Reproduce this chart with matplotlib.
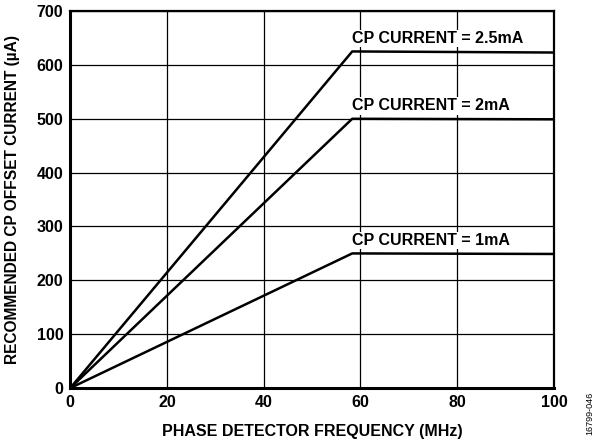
import numpy as np
from matplotlib import pyplot as plt

plt.rcParams['font.family'] = ['Liberation Sans', 'DejaVu Sans']

# donnees
freq = [0, 58.3, 100]
cp_25 = [0, 625, 623]
cp_2 = [0, 500, 499]
cp_1 = [0, 250, 249]
noms = ['CP CURRENT = 2.5mA', 'CP CURRENT = 2mA', 'CP CURRENT = 1mA']
xticks = [0, 20, 40, 60, 80, 100]
yticks = [0, 100, 200, 300, 400, 500, 600, 700]

fig = plt.figure(figsize=(5.95, 4.42), dpi=100)
ax = fig.add_axes([0.118, 0.122, 0.813, 0.853])

for serie, nom in zip([cp_25, cp_2, cp_1], noms):
    ax.plot(freq, serie, color='black', linewidth=1.8, solid_capstyle='butt', zorder=3)
    ax.text(freq[1], serie[1] + 10, nom, fontsize=11.5, fontweight='bold',
            ha='left', va='bottom', zorder=4,
            bbox=dict(facecolor='white', edgecolor='none', pad=1))

ax.set_xlim(0, 100)
ax.set_ylim(0, 700)
ax.set_xticks(xticks)
ax.set_yticks(yticks)
ax.grid(True, color='black', linewidth=0.9)
ax.tick_params(length=0, labelsize=11.5, pad=5)
for lab in ax.get_xticklabels() + ax.get_yticklabels():
    lab.set_fontweight('bold')
for sp in ax.spines.values():
    sp.set_linewidth(1.6)
    sp.set_zorder(5)
ax.spines['bottom'].set_linewidth(2.2)
ax.spines['left'].set_linewidth(2.2)

ax.set_xlabel('PHASE DETECTOR FREQUENCY (MHz)', fontsize=11.5, fontweight='bold', labelpad=10)
ax.set_ylabel('RECOMMENDED CP OFFSET CURRENT (µA)', fontsize=11.2, fontweight='bold')
ax.yaxis.set_label_coords(-0.103, 0.5)

fig.text(0.992, 0.065, '16799-046', rotation=90, fontsize=6.5, ha='center', va='center')

plt.savefig('out.png', dpi=100)
